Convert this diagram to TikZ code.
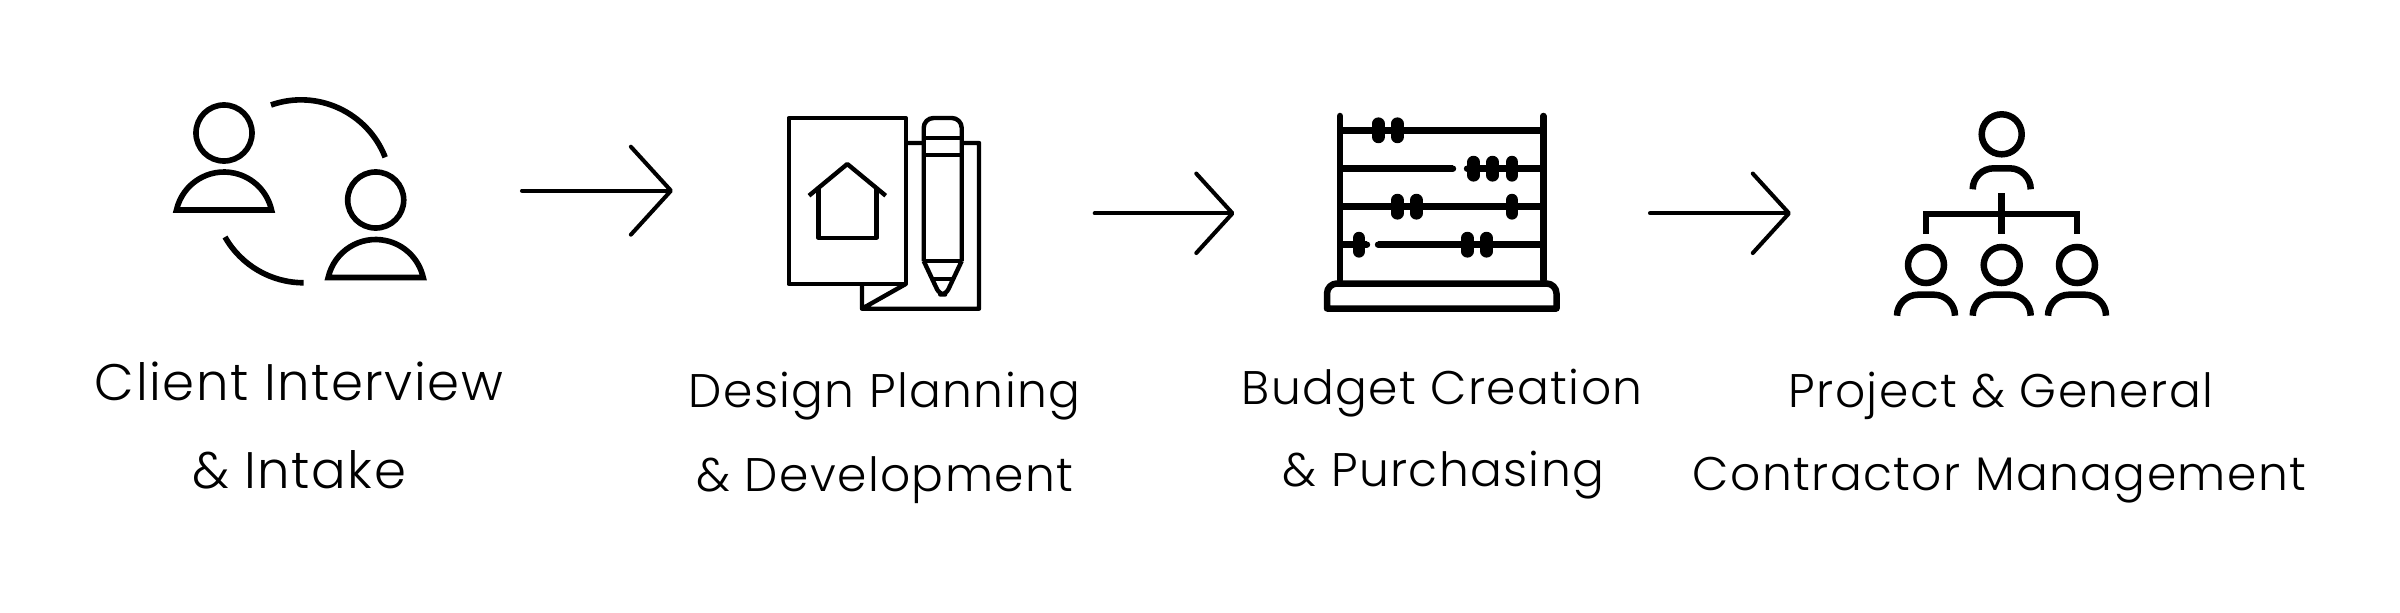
\documentclass[tikz,border=0pt]{standalone}
\usepackage{fontspec}
\setmainfont{Poppins}[UprightFont=* Light, LetterSpace=3]
\usetikzlibrary{arrows.meta}
\tikzset{
  thinstroke/.style={line width=1.25pt, line join=round},
  midstroke/.style={line width=1.6pt, line cap=butt, miter limit=20},
  boldstroke/.style={line width=1.85pt, line cap=butt},
  head/.style={circle, draw, inner sep=0pt, line width=1.6pt},
  orghead/.style={circle, draw, inner sep=0pt, line width=1.85pt},
  bead/.style={line width=3.6pt, line cap=round},
  flowline/.style={line width=1.15pt, line cap=round, -{Straight Barb[length=10.3pt, width=22.6pt, round]}},
  biglabel/.style={anchor=base, inner sep=0pt, font=\fontsize{14.6}{18}\selectfont},
  steplabel/.style={anchor=base, inner sep=0pt, font=\fontsize{13.4}{16}\selectfont},
}
\begin{document}
\begin{tikzpicture}[x=0.01cm, y=-0.01cm]
\useasboundingbox (0,0) rectangle (2400,612);
% interview
\node[head, minimum size=1.6cm*0.35] (hdA) at (224,133){};
\node[head, minimum size=1.6cm*0.35] (hdB) at (375.7,200){};
\draw[midstroke] (176.5,210) arc[start angle=192.7, end angle=347.3, radius=48.7] -- cycle;
\draw[midstroke] (328.2,277.5) arc[start angle=192.7, end angle=347.3, radius=48.7] -- cycle;
\draw[midstroke] (271,105) arc[start angle=-109.4, end angle=-21.4, radius=90.4];
\draw[midstroke] (225,237) arc[start angle=150.4, end angle=90, radius=90.4];
% plan and pencil
\draw[thinstroke] (788.7,118) rectangle (905.7,284);
\draw[thinstroke] (905.7,143) -- (923.7,143) (961.7,143) -- (979,143) -- (979,308.7) -- (862,308.7) -- (862,284) (862,308.7) -- (905.7,284);
\draw[thinstroke] (809,195.7) -- (847.3,164) -- (885.7,195.7);
\draw[thinstroke] (818.3,187.5) -- (818.3,237.7) -- (876.3,237.7) -- (876.3,187.5);
\draw[thinstroke, rounded corners=2.8pt] (923.7,261) -- (923.7,118) -- (961.7,118) -- (961.7,261);
\draw[thinstroke, rounded corners=1.6pt] (923.7,261) -- (939.5,294.5) -- (945.9,294.5) -- (961.7,261);
\draw[thinstroke] (923.7,261) -- (961.7,261) (923.7,138) -- (961.7,138) (923.7,155) -- (961.7,155) (932.5,279) -- (952.9,279);
% abacus
\draw[boldstroke, line cap=round] (1340,116) -- (1340,280);
\draw[boldstroke, line cap=round] (1543.3,116) -- (1543.3,280);
\draw[boldstroke] (1340,130.3) -- (1543.3,130.3);
\draw[boldstroke] (1340,206.7) -- (1543.3,206.7);
\draw[boldstroke] (1340,168.7) -- (1453,168.7);
\fill (1453,168.7) circle (3.2);
\draw[boldstroke] (1467,168.7) -- (1543.3,168.7);
\fill (1467,168.7) circle (3.2);
\draw[boldstroke] (1340,244.7) -- (1367,244.7);
\fill (1367,244.7) circle (3.2);
\draw[boldstroke] (1378,244.7) -- (1543.3,244.7);
\fill (1378,244.7) circle (3.2);
\foreach \x/\y in {1378.3/130.3, 1397.3/130.3, 1473.7/168.7, 1492.7/168.7, 1512/168.7, 1397.3/206.7, 1416.3/206.7, 1512/206.7, 1359/244.7, 1467.3/244.7, 1486.7/244.7}
  \draw[bead] (\x,\y-6.6) -- (\x,\y+6.6);
\draw[boldstroke, line join=round] (1337,283.5) -- (1546.5,283.5) arc[start angle=-90, end angle=0, radius=10] -- (1556.5,308.5) -- (1327,308.5) -- (1327,293.5) arc[start angle=180, end angle=270, radius=10] -- cycle;
% org chart
\node[orghead, minimum size=40*0.01cm] (hdC) at (2001.7,134.3){};
\node[orghead, minimum size=36*0.01cm] (hdD) at (1926,265){};
\node[orghead, minimum size=36*0.01cm] (hdE) at (2001.7,265){};
\node[orghead, minimum size=36*0.01cm] (hdF) at (2077,265){};
\foreach \x/\y in {2001.7/189.3, 1926/315.7, 2001.7/315.7, 2077/315.7}
  \draw[boldstroke] (\x-29,\y) arc[start angle=180, end angle=270, radius=21] -- ++(16,0) arc[start angle=270, end angle=360, radius=21];
\draw[boldstroke, miter limit=10] (1926,234) -- (1926,214) -- (2077,214) -- (2077,234);
\draw[boldstroke] (2001.7,193.3) -- (2001.7,234);
% arrows
\coordinate (arrA0) at (522,190.7);
\coordinate (arrA1) at (673,190.7);
\coordinate (arrB0) at (1094.7,213.3);
\coordinate (arrB1) at (1234.5,213.3);
\coordinate (arrC0) at (1650,213.3);
\coordinate (arrC1) at (1791,213.3);
\draw[flowline, -{Straight Barb[length=11.4pt, width=25pt, round]}] (arrA0) -- (arrA1);
\draw[flowline] (arrB0) -- (arrB1);
\draw[flowline] (arrC0) -- (arrC1);
% labels
\node[biglabel] (labA0) at (299,400){Client Interview};
\node[biglabel] (labA1) at (299,488){\& Intake};
\node[steplabel] (labB0) at (884.5,407){Design Planning};
\node[steplabel] (labB1) at (885,491){\& Development};
\node[steplabel] (labC0) at (1442,404){Budget Creation};
\node[steplabel] (labC1) at (1443.5,486){\& Purchasing};
\node[steplabel] (labD0) at (2001,407){Project \& General};
\node[steplabel] (labD1) at (1999.5,490){Contractor Management};
\end{tikzpicture}
\end{document}
